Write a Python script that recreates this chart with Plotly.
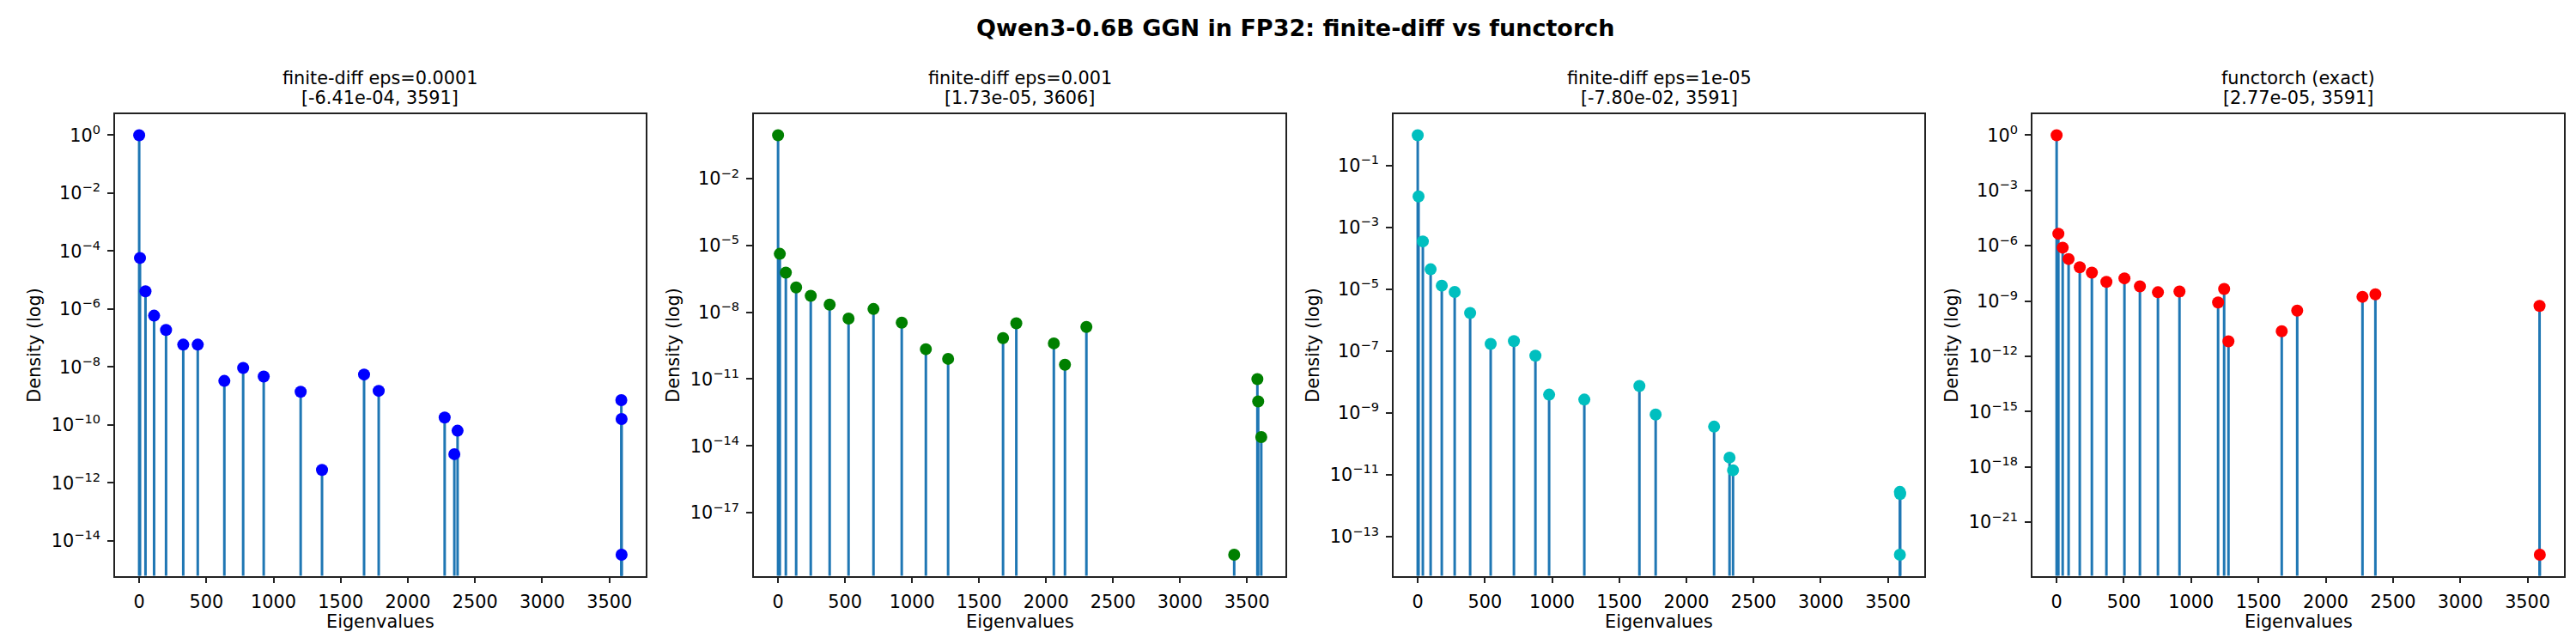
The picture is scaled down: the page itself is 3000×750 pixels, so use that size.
import math
import plotly.graph_objects as go

# eigenvalue positions and densities
fd1e4_eig = [0, 6, 47, 111, 200, 328, 436, 634, 774, 927, 1202, 1361,
             1674, 1783, 2274, 2346, 2370, 3589, 3591, 3591]
fd1e4_dens = [1.0, 5.8e-5, 4.1e-6, 5.9e-7, 1.9e-7, 5.9e-8, 5.9e-8, 3.3e-9,
              9.3e-9, 4.7e-9, 1.4e-9, 2.8e-12, 5.5e-9, 1.5e-9, 1.8e-10,
              9.8e-12, 6.3e-11, 7.2e-10, 1.6e-10, 3.3e-15]

fd1e3_eig = [0, 13, 58, 135, 244, 385, 526, 712, 923, 1103, 1269, 1679,
             1778, 2058, 2141, 2301, 3404, 3577, 3583, 3606]
fd1e3_dens = [0.89, 4.2e-6, 6.0e-7, 1.3e-7, 5.5e-8, 2.2e-8, 5.2e-9, 1.4e-8,
              3.4e-9, 2.2e-10, 8.1e-11, 6.9e-10, 3.2e-9, 4.0e-10, 4.4e-11,
              2.2e-9, 1.3e-19, 1.0e-11, 1.0e-12, 2.5e-14]

fd1e5_eig = [0, 6, 38, 96, 179, 275, 390, 543, 716, 876, 978, 1240,
             1650, 1771, 2206, 2321, 2347, 3589, 3591, 3589]
fd1e5_dens = [0.95, 1.0e-2, 3.5e-4, 4.4e-5, 1.3e-5, 8.1e-6, 1.7e-6, 1.7e-7,
              2.1e-7, 7.1e-8, 3.9e-9, 2.7e-9, 7.4e-9, 8.9e-10, 3.6e-10,
              3.6e-11, 1.4e-11, 2.8e-12, 2.4e-12, 2.6e-14]

exact_eig = [0, 13, 45, 89, 172, 262, 370, 504, 619, 753, 913, 1200,
             1245, 1277, 1673, 1788, 2273, 2369, 3589, 3591]
exact_dens = [1.0, 4.5e-6, 7.9e-7, 1.9e-7, 6.8e-8, 3.5e-8, 1.1e-8, 1.7e-8,
              6.2e-9, 3.0e-9, 3.3e-9, 8.3e-10, 4.5e-9, 6.5e-12, 2.3e-11,
              3.0e-10, 1.7e-9, 2.3e-9, 5.4e-10, 1.7e-23]

titles = ["finite-diff eps=0.0001", "finite-diff eps=0.001",
          "finite-diff eps=1e-05", "functorch (exact)"]
ranges_txt = ["[-6.41e-04, 3591]", "[1.73e-05, 3606]",
              "[-7.80e-02, 3591]", "[2.77e-05, 3591]"]
# exponents shown on each log axis
tick_exps = [[0, -2, -4, -6, -8, -10, -12, -14],
             [-2, -5, -8, -11, -14, -17],
             [-1, -3, -5, -7, -9, -11, -13],
             [0, -3, -6, -9, -12, -15, -18, -21]]
marker_colors = ["#0000ff", "#008000", "#00bfbf", "#ff0000"]

panels = [(fd1e4_eig, fd1e4_dens), (fd1e3_eig, fd1e3_dens),
          (fd1e5_eig, fd1e5_dens), (exact_eig, exact_dens)]

W, H = 3000, 750
FONT = "DejaVu Sans"
FS = 20.8
stem_color = "#1f77b4"
frame_color = "#222222"

# axes boxes in pixels (left, right), shared top/bottom
x_px = [(126, 744), (870, 1489), (1615, 2233), (2359, 2978)]
top_px, bot_px = 125, 662.5

fig = go.Figure()
annotations = []

for i, (eig, dens) in enumerate(panels):
    n = "" if i == 0 else str(i + 1)
    # matplotlib-like 5% autoscale margins
    xmin, xmax = min(eig), max(eig)
    xpad = 0.05 * (xmax - xmin)
    logs = [math.log10(d) for d in dens]
    lmin, lmax = min(logs), max(logs)
    lpad = 0.05 * (lmax - lmin)
    yr = [lmin - lpad, lmax + lpad]
    base = 10 ** (yr[0] - 2)

    sx, sy = [], []
    for e, d in zip(eig, dens):
        sx += [e, e, None]
        sy += [base, d, None]
    fig.add_trace(go.Scatter(x=sx, y=sy, mode="lines",
                             line=dict(color=stem_color, width=3),
                             xaxis="x" + n, yaxis="y" + n,
                             showlegend=False, hoverinfo="skip"))
    fig.add_trace(go.Scatter(x=eig, y=dens, mode="markers",
                             marker=dict(color=marker_colors[i], size=14,
                                         line=dict(width=0)),
                             xaxis="x" + n, yaxis="y" + n,
                             showlegend=False, cliponaxis=False))

    l, r = x_px[i]
    dom_x = [l / W, r / W]
    dom_y = [1 - bot_px / H, 1 - top_px / H]
    axcommon = dict(showgrid=False, zeroline=False, showline=True,
                    linecolor=frame_color, linewidth=1.7, mirror=True,
                    ticks="outside", ticklen=7, tickwidth=1.7,
                    tickcolor=frame_color,
                    tickfont=dict(family=FONT, size=FS, color="black"))
    fig.update_layout(**{
        "xaxis" + n: dict(domain=dom_x, range=[xmin - xpad, xmax + xpad],
                          anchor="y" + n, dtick=500, tick0=0,
                          ticklabelstandoff=4, **axcommon),
        "yaxis" + n: dict(domain=dom_y, type="log", range=yr,
                          anchor="x" + n,
                          tickvals=[10.0 ** e for e in tick_exps[i]],
                          ticktext=["10<sup>%s</sup>" % str(e).replace("-", "\u2212")
                                    for e in tick_exps[i]],
                          ticklabelstandoff=4, **axcommon),
    })

    cx = (l + r) / 2 / W
    annotations.append(dict(text=titles[i], x=cx, y=1 - 83 / H,
                            xref="paper", yref="paper", showarrow=False,
                            xanchor="center", yanchor="middle",
                            font=dict(family=FONT, size=FS, color="black")))
    annotations.append(dict(text=ranges_txt[i], x=cx, y=1 - 106 / H,
                            xref="paper", yref="paper", showarrow=False,
                            xanchor="center", yanchor="middle",
                            font=dict(family=FONT, size=FS, color="black")))
    annotations.append(dict(text="Eigenvalues", x=cx, y=1 - 716 / H,
                            xref="paper", yref="paper", showarrow=False,
                            xanchor="center", yanchor="middle",
                            font=dict(family=FONT, size=FS, color="black")))
    annotations.append(dict(text="Density (log)", x=(l - 94) / W,
                            y=1 - (top_px + bot_px) / 2 / H,
                            xref="paper", yref="paper", showarrow=False,
                            textangle=-90, xanchor="center", yanchor="middle",
                            font=dict(family=FONT, size=FS, color="black")))

annotations.append(dict(text="<b>Qwen3-0.6B GGN in FP32: finite-diff vs functorch</b>",
                        x=0.5, y=1 - 25 / H, xref="paper", yref="paper",
                        showarrow=False, xanchor="center", yanchor="middle",
                        font=dict(family=FONT, size=27, color="black")))

fig.update_layout(width=W, height=H, margin=dict(l=0, r=0, t=0, b=0),
                  plot_bgcolor="white", paper_bgcolor="white",
                  annotations=annotations, showlegend=False)

fig.write_html("out.html")
